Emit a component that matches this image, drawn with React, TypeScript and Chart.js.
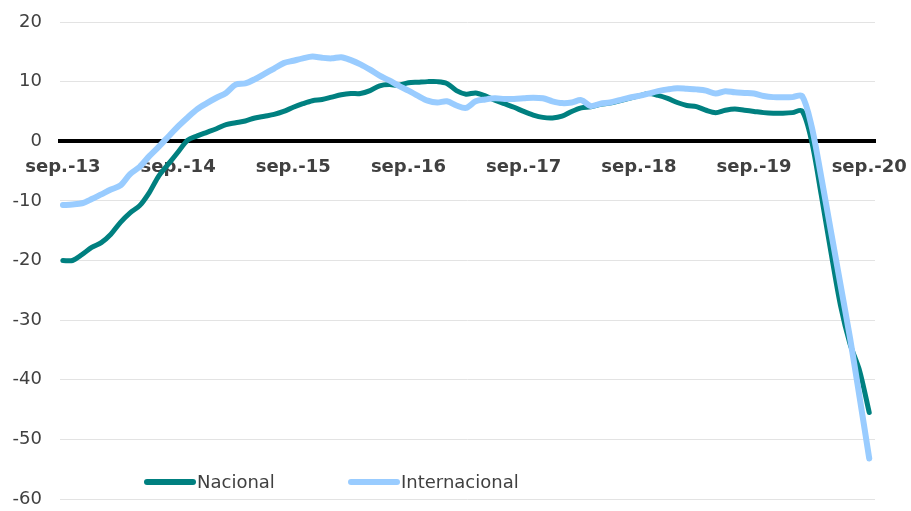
import React, { useEffect, useRef } from "react";
import { Chart, registerables } from "chart.js";

Chart.register(...registerables);

// Monthly categories, sep.-13 .. sep.-20
const monthNames = ["sep.", "oct.", "nov.", "dic.", "ene.", "feb.", "mar.", "abr.", "may.", "jun.", "jul.", "ago."];
const categories: string[] = [];
for (let i = 0; i < 85; i++) {
  const yr = 13 + Math.floor((i + 8) / 12);
  categories.push(`${monthNames[i % 12]}-${yr}`);
}

const tickLabels = ["sep.-13", "sep.-14", "sep.-15", "sep.-16", "sep.-17", "sep.-18", "sep.-19", "sep.-20"];
const yTicks = [20, 10, 0, -10, -20, -30, -40, -50, -60];

const nacional = [
  -20.0, -20.0, -19.0, -17.8, -17.0, -15.6, -13.6, -12.0, -10.8, -8.6, -5.8, -3.8,
  -1.8, 0.2, 0.9, 1.5, 2.1, 2.8, 3.1, 3.4, 3.9, 4.2, 4.5, 5.0,
  5.7, 6.3, 6.8, 7.0, 7.4, 7.8, 8.0, 8.0, 8.5, 9.3, 9.5, 9.4,
  9.8, 9.9, 10.0, 10.0, 9.7, 8.5, 7.9, 8.1, 7.6, 6.9, 6.3, 5.7,
  5.0, 4.4, 4.0, 3.9, 4.2, 5.0, 5.6, 5.8, 6.2, 6.4, 6.8, 7.2,
  7.6, 8.0, 7.7, 7.2, 6.5, 6.0, 5.8, 5.2, 4.8, 5.2, 5.4, 5.2,
  5.0, 4.8, 4.7, 4.7, 4.8, 5.1, 0.0, -9.0, -18.5, -27.5, -34.0, -38.5,
  -45.5,
];

const internacional = [
  -10.7, -10.6, -10.4, -9.7, -8.9, -8.1, -7.4, -5.5, -4.3, -2.5, -0.9, 0.8,
  2.5, 4.0, 5.4, 6.4, 7.3, 8.1, 9.5, 9.7, 10.4, 11.3, 12.2, 13.1,
  13.5, 13.9, 14.2, 14.0, 13.9, 14.1, 13.6, 12.9, 12.0, 11.0, 10.2, 9.3,
  8.5, 7.6, 6.8, 6.5, 6.7, 6.0, 5.6, 6.7, 7.0, 7.2, 7.1, 7.1,
  7.2, 7.3, 7.2, 6.7, 6.4, 6.5, 6.9, 5.9, 6.3, 6.5, 6.9, 7.3,
  7.6, 8.0, 8.4, 8.7, 8.9, 8.8, 8.7, 8.5, 8.0, 8.4, 8.2, 8.1,
  8.0, 7.6, 7.4, 7.4, 7.4, 7.6, 2.5, -6.0, -15.0, -24.0, -33.0, -43.0,
  -53.2,
];

const FONT = "'DejaVu Sans', Verdana, sans-serif";
const TEXT = "#404040";

const legendPlugin = {
  id: "customLegend",
  afterDatasetsDraw(chart: any) {
    const ctx = chart.ctx;
    const y = 482;
    const items = [
      { x: 145, ds: chart.data.datasets[0] },
      { x: 349, ds: chart.data.datasets[1] },
    ];
    ctx.save();
    items.forEach((it) => {
      ctx.strokeStyle = it.ds.borderColor;
      ctx.lineWidth = 6;
      ctx.lineCap = "round";
      ctx.beginPath();
      ctx.moveTo(it.x + 2, y);
      ctx.lineTo(it.x + 48, y);
      ctx.stroke();
      ctx.fillStyle = TEXT;
      ctx.font = `18px ${FONT}`;
      ctx.textBaseline = "middle";
      ctx.textAlign = "left";
      ctx.fillText(it.ds.label, it.x + 52, y + 1);
    });
    ctx.restore();
  },
};

export default function App() {
  const ref = useRef<HTMLCanvasElement>(null);
  useEffect(() => {
    if (!ref.current) return;
    const chart = new Chart(ref.current, {
      type: "line",
      data: {
        datasets: [
          {
            label: "Nacional",
            data: nacional.map((v, i) => ({ x: i, y: v })),
            borderColor: "#008080",
            borderWidth: 5,
            pointRadius: 0,
            tension: 0.3,
            borderCapStyle: "round",
            borderJoinStyle: "round",
            order: 1,
          },
          {
            label: "Internacional",
            data: internacional.map((v, i) => ({ x: i, y: v })),
            borderColor: "#99CCFF",
            borderWidth: 6,
            pointRadius: 0,
            tension: 0.3,
            borderCapStyle: "round",
            borderJoinStyle: "round",
            order: 0,
          },
        ],
      },
      options: {
        animation: false,
        responsive: true,
        maintainAspectRatio: false,
        layout: { padding: { left: 0, right: 36, top: 22, bottom: 12 } },
        plugins: {
          legend: { display: false },
          tooltip: { enabled: false },
        },
        scales: {
          x: {
            type: "linear",
            position: { y: 0 } as any,
            min: -0.3,
            max: 84.6,
            afterBuildTicks: (scale: any) => {
              scale.ticks = tickLabels.map((_, i) => ({ value: i * 12 }));
            },
            afterFit: (scale: any) => {
              scale.height = 0;
              scale.paddingLeft = 0;
              scale.paddingRight = 0;
              scale.paddingTop = 0;
              scale.paddingBottom = 0;
            },
            grid: { display: false, drawTicks: false },
            border: { display: true, color: "#000000", width: 4 },
            ticks: {
              autoSkip: false,
              maxRotation: 0,
              padding: 15,
              color: TEXT,
              font: { family: FONT, size: 18, weight: "bold" },
              callback: (value: any) => tickLabels[Math.round(Number(value) / 12)] ?? "",
            },
          },
          y: {
            min: -60,
            max: 20,
            afterFit: (scale: any) => {
              scale.width = 60;
              scale.paddingTop = 0;
              scale.paddingBottom = 0;
            },
            afterBuildTicks: (scale: any) => {
              scale.ticks = yTicks.map((v) => ({ value: v }));
            },
            grid: { color: "#E3E3E3", lineWidth: 1, drawTicks: false },
            border: { display: false },
            ticks: {
              padding: 18,
              color: TEXT,
              font: { family: FONT, size: 18 },
            },
          },
        },
      },
      plugins: [legendPlugin],
    });
    return () => chart.destroy();
  }, []);
  return (
    <div style={{ position: "fixed", left: 0, top: 0, width: 911, height: 511, background: "#fff" }}>
      <canvas ref={ref} />
    </div>
  );
}
